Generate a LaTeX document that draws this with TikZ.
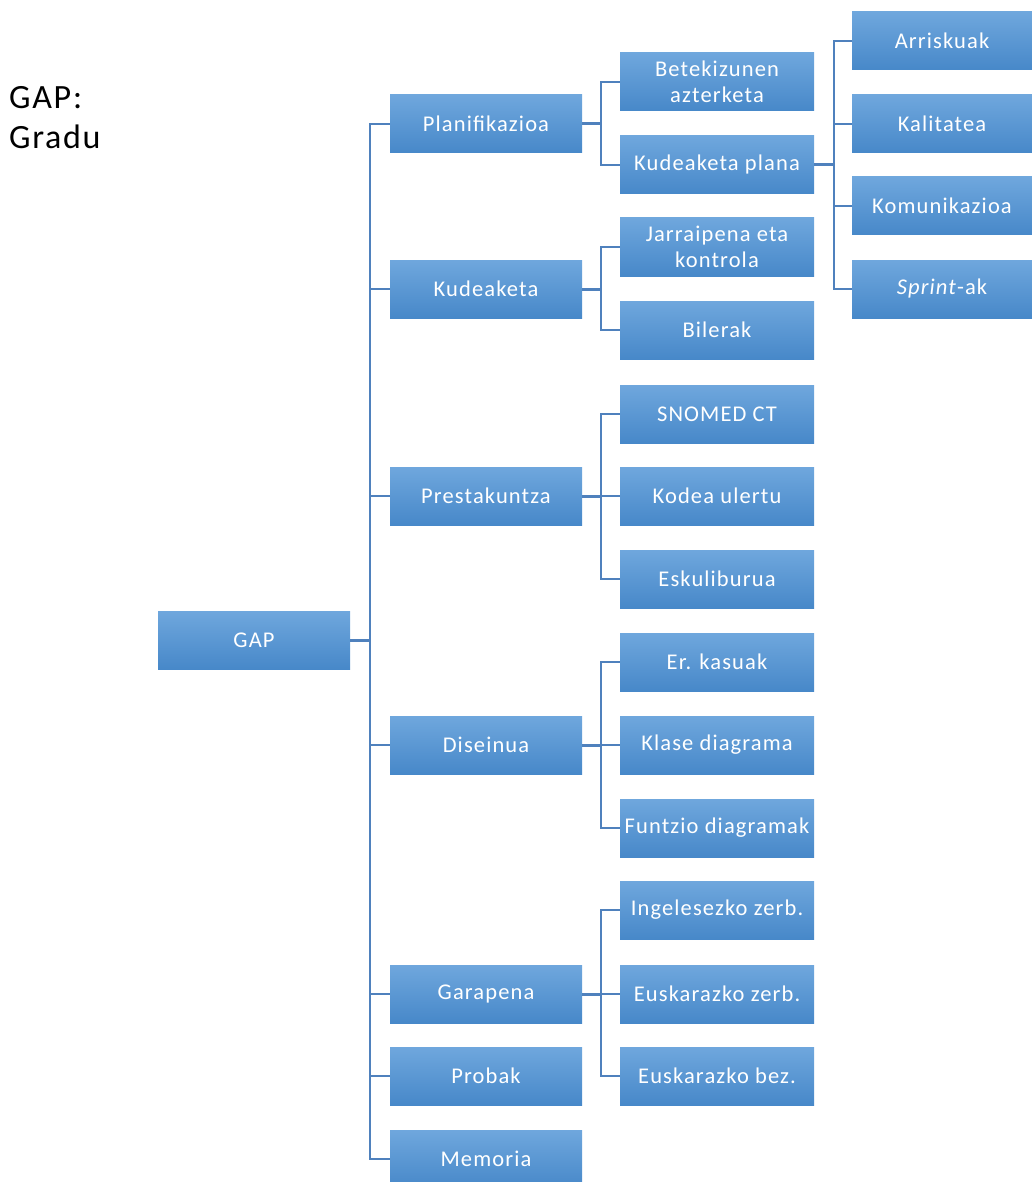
\documentclass[tikz,border=0pt]{standalone}
\usepackage{fontspec}
\setmainfont{Carlito}[LetterSpace=5]
\begin{document}
\begin{tikzpicture}[x=1pt,y=-1pt,
  box/.style={rectangle, minimum height=58pt, inner sep=0pt, align=center,
    top color=boxtop, bottom color=boxbot, draw=none, text=white,
    font=\fontsize{22.5}{26}\selectfont},
  wbox/.style={box, minimum width=192pt},
  mbox/.style={box, minimum width=194pt},
  nbox/.style={box, minimum width=180pt},
  link/.style={draw=linec, line width=2pt},
  stub/.style={draw=linec, line width=3pt}]
\definecolor{boxtop}{HTML}{6FA7DD}
\definecolor{boxbot}{HTML}{4788C9}
\definecolor{linec}{HTML}{4F81BD}
\useasboundingbox (0,0) rectangle (1032,1182);

% title (base anchor sits on the last line)
\node[anchor=base west, align=left, inner sep=0pt,
  font=\fontsize{34}{40}\selectfont] (title) at (9,149) {GAP:\\Gradu};

% root
\node[wbox] (gap) at (254,640) {GAP};

% first level
\node[wbox] (plan) at (486,124) {Planifikazioa};
\node[wbox] (kud)  at (486,289) {Kudeaketa};
\node[wbox] (pres) at (486,496) {Prestakuntza};
\node[wbox] (dis)  at (486,745) {Diseinua};
\node[wbox] (gar)  at (486,994) {Garapena};
\node[wbox] (prob) at (486,1076) {Probak};
\node[wbox] (mem)  at (486,1159) {Memoria};

% second level
\node[mbox] (bet) at (717,82) {Betekizunen\\azterketa};
\node[mbox] (kp)  at (717,165) {Kudeaketa plana};
\node[mbox] (jar) at (717,247) {Jarraipena eta\\kontrola};
\node[mbox] (bil) at (717,330) {Bilerak};
\node[mbox] (sno) at (717,414) {SNOMED CT};
\node[mbox] (kod) at (717,496) {Kodea ulertu};
\node[mbox] (esk) at (717,579) {Eskuliburua};
\node[mbox] (erk) at (717,662) {Er. kasuak};
\node[mbox] (kla) at (717,745) {Klase diagrama};
\node[mbox] (fun) at (717,828) {Funtzio diagramak};
\node[mbox] (ing) at (717,910) {Ingelesezko zerb.};
\node[mbox] (eus) at (717,994) {Euskarazko zerb.};
\node[mbox] (bez) at (717,1076) {Euskarazko bez.};

% third level
\node[nbox] (arr) at (942,41)  {Arriskuak};
\node[nbox] (kal) at (942,124) {Kalitatea};
\node[nbox] (kom) at (942,206) {Komunikazioa};
\node[nbox] (spr) at (942,289) {\textit{Sprint}-ak};

% root to first level
\coordinate (b0) at (370,0);
\draw[stub] (gap.east) -- (gap.east -| b0);
\foreach \n in {plan,kud,pres,dis,gar,prob,mem}
  \draw[link] (gap.east -| b0) |- (\n.west);

% first level to second level
\coordinate (b1) at (601,0);
\foreach \p/\kids in {plan/{bet,kp}, kud/{jar,bil}, pres/{sno,kod,esk},
                      dis/{erk,kla,fun}, gar/{ing,eus,bez}}{
  \draw[stub] (\p.east) -- (\p.east -| b1);
  \foreach \c in \kids
    \draw[link] (\p.east -| b1) |- (\c.west);
}

% management plan to third level
\coordinate (b2) at (834,0);
\draw[stub] (kp.east) -- (kp.east -| b2);
\foreach \c in {arr,kal,kom,spr}
  \draw[link] (kp.east -| b2) |- (\c.west);
\end{tikzpicture}
\end{document}
